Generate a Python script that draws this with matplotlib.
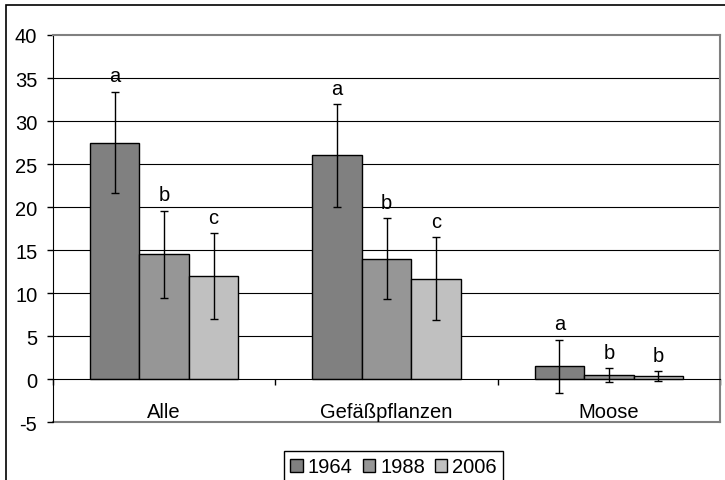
import numpy as np
import matplotlib.pyplot as plt
from matplotlib.patches import Rectangle, Patch

plt.rcParams["font.family"] = ["Liberation Sans", "DejaVu Sans"]

# =============================================================================
# DATA
# =============================================================================

CATEGORIES = ["Alle", "Gefäßpflanzen", "Moose"]
YEARS = ["1964", "1988", "2006"]

MEAN_1964 = [27.5, 26.0, 1.5]
MEAN_1988 = [14.5, 14.0, 0.5]
MEAN_2006 = [12.0, 11.7, 0.4]

ERR_1964 = [5.9, 5.95, 3.1]
ERR_1988 = [5.1, 4.7, 0.8]
ERR_2006 = [5.0, 4.8, 0.55]

LETTERS_1964 = ["a", "a", "a"]
LETTERS_1988 = ["b", "b", "b"]
LETTERS_2006 = ["c", "c", "b"]

COLORS = ["#808080", "#969696", "#c0c0c0"]
YTICKS = list(range(-5, 45, 5))

FS = 14.5

# =============================================================================
# PLOT
# =============================================================================

fig = plt.figure(figsize=(7.25, 4.81), dpi=100)
ax = fig.add_axes([53 / 725, 1 - 423.3 / 481, (720 - 53) / 725, (423.3 - 36) / 481])

means = [MEAN_1964, MEAN_1988, MEAN_2006]
errs = [ERR_1964, ERR_1988, ERR_2006]
letters = [LETTERS_1964, LETTERS_1988, LETTERS_2006]

x = np.arange(len(CATEGORIES))
bar_w = 0.222
offsets = [-bar_w, 0, bar_w]

ax.set_xlim(-0.5, len(CATEGORIES) - 0.5)
ax.set_ylim(-5, 40)

# horizontal grid lines (inside the plot box only)
for t in YTICKS:
    if -5 < t < 40 and t != 0:
        ax.axhline(t, color="black", linewidth=0.8, zorder=0)
ax.axhline(-5, color="#808080", linewidth=1.5, zorder=1, clip_on=False)

for i in range(len(YEARS)):
    xs = x + offsets[i]
    ax.bar(xs, means[i], width=bar_w, color=COLORS[i], edgecolor="black",
           linewidth=1.0, zorder=2, label=YEARS[i])
    ax.errorbar(xs, means[i], yerr=errs[i], fmt="none", ecolor="black",
                elinewidth=1.0, capsize=3, capthick=1.0, zorder=3)
    for xi, m, e, lab in zip(xs, means[i], errs[i], letters[i]):
        ax.annotate(lab, (xi, m + e), xytext=(0, 7.5), textcoords="offset points",
                    ha="center", va="baseline", fontsize=FS)

# axes styling
ax.spines["bottom"].set_position(("data", 0))
ax.spines["bottom"].set_color("black")
ax.spines["left"].set_color("black")
ax.spines["top"].set_color("#808080")
ax.spines["right"].set_color("#808080")
ax.spines["top"].set_linewidth(1.5)
ax.spines["right"].set_linewidth(1.5)

ax.set_yticks(YTICKS)
ax.set_yticklabels([str(t) for t in YTICKS])
ax.tick_params(axis="y", direction="out", length=4.3, pad=7, labelsize=FS, width=1.0)

# major ticks at category borders, labels at centres
ax.set_xticks(np.arange(-0.5, len(CATEGORIES), 1.0))
ax.set_xticklabels([])
ax.tick_params(axis="x", which="major", direction="out", length=4.3, width=1.0)
ax.set_xticks(x, minor=True)
ax.set_xticklabels(CATEGORIES, minor=True)
ax.tick_params(axis="x", which="minor", length=0, pad=16.5, labelsize=FS)

# legend
handles = [Patch(facecolor=c, edgecolor="black", linewidth=1.0) for c in COLORS]
leg = fig.legend(handles, YEARS, loc="upper left", bbox_to_anchor=(284 / 725, 1 - 452.3 / 481),
                 ncol=3, fontsize=FS, frameon=True, fancybox=False, framealpha=1,
                 edgecolor="black", handlelength=0.62, handleheight=0.62,
                 handletextpad=0.25, columnspacing=0.5, borderpad=0.3, borderaxespad=0)
leg.get_frame().set_linewidth(1.0)

# outer chart border
fig.patches.append(Rectangle((6 / 725, -0.1), 1.0, 1 - 6 / 481 + 0.1, transform=fig.transFigure,
                             fill=False, edgecolor="black", linewidth=1.2, clip_on=False))

fig.savefig("out.png", dpi=100)
